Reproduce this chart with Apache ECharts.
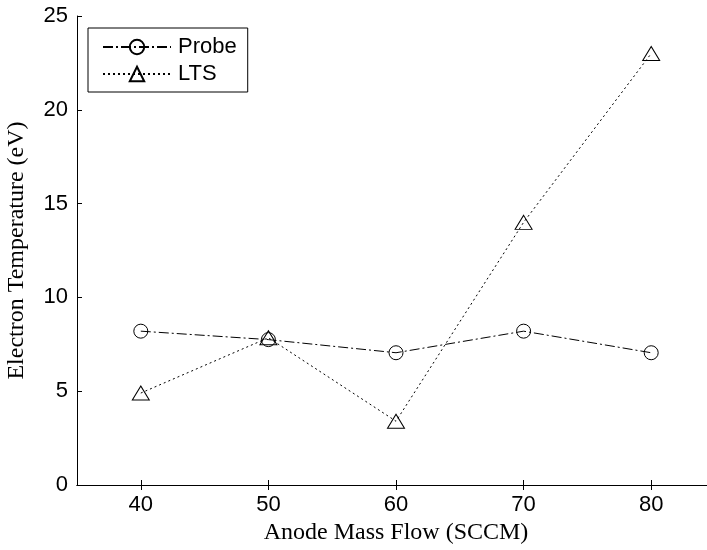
<!DOCTYPE html>
<html>
<head>
<meta charset="utf-8">
<script src="https://cdn.jsdelivr.net/npm/echarts@6/dist/echarts.min.js"></script>
<style>html,body{margin:0;padding:0;background:#fff;}#c{width:707px;height:550px;}</style>
</head>
<body>
<div id="c"></div>
<script>
var flows = [40, 50, 60, 70, 80];
var probe = [8.2, 7.75, 7.05, 8.2, 7.05];
var lts = [4.9, 7.85, 3.4, 14.0, 23.0];
var xTicks = [40, 50, 60, 70, 80];
var yTicks = [0, 5, 10, 15, 20, 25];

var sans = 'Liberation Sans';
var serif = 'Liberation Serif';

function pairs(xs, ys) { return xs.map(function (x, i) { return [x, ys[i]]; }); }

var chart = echarts.init(document.getElementById('c'), null, {renderer: 'canvas'});
var axisLineStyle = {color: '#000', width: 1};
chart.setOption({
  animation: false,
  backgroundColor: '#fff',
  grid: {left: 77, top: 16, width: 638, height: 469, containLabel: false, outerBoundsMode: 'none'},
  xAxis: [{
    type: 'value', min: 35, max: 85, position: 'bottom',
    name: 'Anode Mass Flow (SCCM)', nameLocation: 'middle', nameGap: 36,
    nameTextStyle: {fontFamily: serif, fontSize: 24, color: '#000'},
    axisLine: {show: true, lineStyle: axisLineStyle},
    axisTick: {show: true, inside: true, length: 5, lineStyle: axisLineStyle, customValues: xTicks},
    axisLabel: {fontFamily: sans, fontSize: 22, color: '#000', margin: 9, customValues: xTicks},
    splitLine: {show: false}
  }, {
    type: 'value', min: 35, max: 85, position: 'top',
    axisLine: {show: true, lineStyle: axisLineStyle},
    axisTick: {show: true, inside: true, length: 5, lineStyle: axisLineStyle, customValues: xTicks},
    axisLabel: {show: false},
    splitLine: {show: false}
  }],
  yAxis: [{
    type: 'value', min: 0, max: 25, interval: 5, position: 'left',
    name: 'Electron Temperature (eV)', nameLocation: 'middle', nameGap: 48, nameRotate: 90,
    nameTextStyle: {fontFamily: serif, fontSize: 24, color: '#000'},
    axisLine: {show: true, lineStyle: axisLineStyle},
    axisTick: {show: true, inside: true, length: 5, lineStyle: axisLineStyle},
    axisLabel: {fontFamily: sans, fontSize: 22, color: '#000', margin: 9,
      customValues: yTicks},
    splitLine: {show: false}
  }, {
    type: 'value', min: 0, max: 25, interval: 5, position: 'right',
    axisLine: {show: true, lineStyle: axisLineStyle},
    axisTick: {show: true, inside: true, length: 5, lineStyle: axisLineStyle},
    axisLabel: {show: false},
    splitLine: {show: false}
  }],
  legend: {
    orient: 'vertical', left: 88, top: 28,
    width: 158,
    padding: [8, 11, 7, 14],
    itemWidth: 68, itemHeight: 18, itemGap: 5,
    borderColor: '#000', borderWidth: 1, borderRadius: 0,
    backgroundColor: '#fff',
    textStyle: {fontFamily: sans, fontSize: 22, color: '#000', padding: [0, 0, 0, 2]},
    data: ['Probe', 'LTS']
  },
  series: [{
    name: 'Probe', type: 'line', data: pairs(flows, probe),
    symbol: 'circle', symbolSize: 14, showAllSymbol: true,
    lineStyle: {color: '#000', width: 1, type: [10, 3, 2, 3]},
    itemStyle: {color: 'rgba(0,0,0,0)', borderColor: '#000', borderWidth: 1},
    emphasis: {disabled: true}
  }, {
    name: 'LTS', type: 'line', data: pairs(flows, lts),
    symbol: 'triangle', symbolSize: [17, 14], showAllSymbol: true,
    lineStyle: {color: '#000', width: 1, type: [2, 3]},
    itemStyle: {color: 'rgba(0,0,0,0)', borderColor: '#000', borderWidth: 1},
    emphasis: {disabled: true}
  }]
});
</script>
</body>
</html>
